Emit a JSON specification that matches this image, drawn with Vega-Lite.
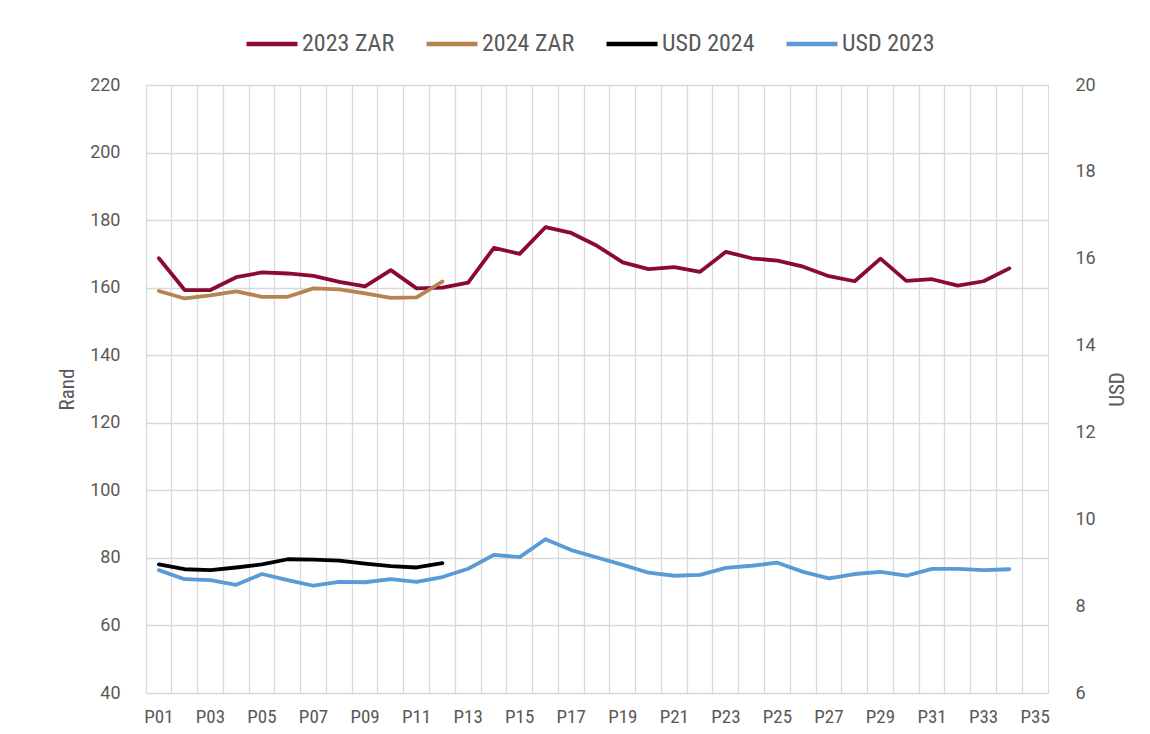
{
  "$schema": "https://vega.github.io/schema/vega-lite/v6.json",
  "width": 902,
  "height": 608,
  "autosize": {"type": "none"},
  "padding": {"left": 146, "top": 85, "right": 102, "bottom": 41},
  "background": "white",
  "config": {
    "view": {"stroke": "#d9d9d9", "strokeWidth": 1},
    "axis": {"labelColor": "#595959", "titleColor": "#595959", "gridColor": "#d9d9d9", "gridWidth": 1.3}
  },
  "datasets": {
    "zar": [
      {"period": "P01", "series": "2023 ZAR", "value": 168.7},
      {"period": "P02", "series": "2023 ZAR", "value": 159.3},
      {"period": "P03", "series": "2023 ZAR", "value": 159.3},
      {"period": "P04", "series": "2023 ZAR", "value": 163.1},
      {"period": "P05", "series": "2023 ZAR", "value": 164.5},
      {"period": "P06", "series": "2023 ZAR", "value": 164.2},
      {"period": "P07", "series": "2023 ZAR", "value": 163.5},
      {"period": "P08", "series": "2023 ZAR", "value": 161.7},
      {"period": "P09", "series": "2023 ZAR", "value": 160.4},
      {"period": "P10", "series": "2023 ZAR", "value": 165.2},
      {"period": "P11", "series": "2023 ZAR", "value": 159.8},
      {"period": "P12", "series": "2023 ZAR", "value": 160.0},
      {"period": "P13", "series": "2023 ZAR", "value": 161.5},
      {"period": "P14", "series": "2023 ZAR", "value": 171.8},
      {"period": "P15", "series": "2023 ZAR", "value": 170.0},
      {"period": "P16", "series": "2023 ZAR", "value": 177.9},
      {"period": "P17", "series": "2023 ZAR", "value": 176.2},
      {"period": "P18", "series": "2023 ZAR", "value": 172.4},
      {"period": "P19", "series": "2023 ZAR", "value": 167.5},
      {"period": "P20", "series": "2023 ZAR", "value": 165.5},
      {"period": "P21", "series": "2023 ZAR", "value": 166.1},
      {"period": "P22", "series": "2023 ZAR", "value": 164.7},
      {"period": "P23", "series": "2023 ZAR", "value": 170.6},
      {"period": "P24", "series": "2023 ZAR", "value": 168.7},
      {"period": "P25", "series": "2023 ZAR", "value": 168.0},
      {"period": "P26", "series": "2023 ZAR", "value": 166.2},
      {"period": "P27", "series": "2023 ZAR", "value": 163.4},
      {"period": "P28", "series": "2023 ZAR", "value": 161.9},
      {"period": "P29", "series": "2023 ZAR", "value": 168.6},
      {"period": "P30", "series": "2023 ZAR", "value": 162.0},
      {"period": "P31", "series": "2023 ZAR", "value": 162.5},
      {"period": "P32", "series": "2023 ZAR", "value": 160.6},
      {"period": "P33", "series": "2023 ZAR", "value": 161.9},
      {"period": "P34", "series": "2023 ZAR", "value": 165.7},
      {"period": "P01", "series": "2024 ZAR", "value": 159.0},
      {"period": "P02", "series": "2024 ZAR", "value": 156.8},
      {"period": "P03", "series": "2024 ZAR", "value": 157.7},
      {"period": "P04", "series": "2024 ZAR", "value": 158.9},
      {"period": "P05", "series": "2024 ZAR", "value": 157.3},
      {"period": "P06", "series": "2024 ZAR", "value": 157.3},
      {"period": "P07", "series": "2024 ZAR", "value": 159.8},
      {"period": "P08", "series": "2024 ZAR", "value": 159.5},
      {"period": "P09", "series": "2024 ZAR", "value": 158.3},
      {"period": "P10", "series": "2024 ZAR", "value": 157.0},
      {"period": "P11", "series": "2024 ZAR", "value": 157.1},
      {"period": "P12", "series": "2024 ZAR", "value": 161.8}
    ],
    "usd": [
      {"period": "P01", "series": "USD 2024", "value": 8.96},
      {"period": "P02", "series": "USD 2024", "value": 8.85},
      {"period": "P03", "series": "USD 2024", "value": 8.83},
      {"period": "P04", "series": "USD 2024", "value": 8.89},
      {"period": "P05", "series": "USD 2024", "value": 8.96},
      {"period": "P06", "series": "USD 2024", "value": 9.08},
      {"period": "P07", "series": "USD 2024", "value": 9.07},
      {"period": "P08", "series": "USD 2024", "value": 9.05},
      {"period": "P09", "series": "USD 2024", "value": 8.98},
      {"period": "P10", "series": "USD 2024", "value": 8.92},
      {"period": "P11", "series": "USD 2024", "value": 8.89},
      {"period": "P12", "series": "USD 2024", "value": 8.99},
      {"period": "P01", "series": "USD 2023", "value": 8.83},
      {"period": "P02", "series": "USD 2023", "value": 8.62},
      {"period": "P03", "series": "USD 2023", "value": 8.60},
      {"period": "P04", "series": "USD 2023", "value": 8.49},
      {"period": "P05", "series": "USD 2023", "value": 8.74},
      {"period": "P06", "series": "USD 2023", "value": 8.60},
      {"period": "P07", "series": "USD 2023", "value": 8.47},
      {"period": "P08", "series": "USD 2023", "value": 8.56},
      {"period": "P09", "series": "USD 2023", "value": 8.55},
      {"period": "P10", "series": "USD 2023", "value": 8.62},
      {"period": "P11", "series": "USD 2023", "value": 8.56},
      {"period": "P12", "series": "USD 2023", "value": 8.67},
      {"period": "P13", "series": "USD 2023", "value": 8.86},
      {"period": "P14", "series": "USD 2023", "value": 9.18},
      {"period": "P15", "series": "USD 2023", "value": 9.13},
      {"period": "P16", "series": "USD 2023", "value": 9.54},
      {"period": "P17", "series": "USD 2023", "value": 9.29},
      {"period": "P18", "series": "USD 2023", "value": 9.12},
      {"period": "P19", "series": "USD 2023", "value": 8.95},
      {"period": "P20", "series": "USD 2023", "value": 8.77},
      {"period": "P21", "series": "USD 2023", "value": 8.70},
      {"period": "P22", "series": "USD 2023", "value": 8.72},
      {"period": "P23", "series": "USD 2023", "value": 8.88},
      {"period": "P24", "series": "USD 2023", "value": 8.93},
      {"period": "P25", "series": "USD 2023", "value": 9.00},
      {"period": "P26", "series": "USD 2023", "value": 8.79},
      {"period": "P27", "series": "USD 2023", "value": 8.64},
      {"period": "P28", "series": "USD 2023", "value": 8.74},
      {"period": "P29", "series": "USD 2023", "value": 8.79},
      {"period": "P30", "series": "USD 2023", "value": 8.70},
      {"period": "P31", "series": "USD 2023", "value": 8.86},
      {"period": "P32", "series": "USD 2023", "value": 8.86},
      {"period": "P33", "series": "USD 2023", "value": 8.83},
      {"period": "P34", "series": "USD 2023", "value": 8.85}
    ]
  },
  "layer": [
    {
      "data": {"name": "zar"},
      "mark": {"type": "line", "strokeWidth": 3.8, "strokeCap": "round", "strokeJoin": "round"},
      "encoding": {
        "x": {
          "field": "period", "type": "ordinal", "bandPosition": 0.5,
          "scale": {"type": "band", "paddingInner": 0, "paddingOuter": 0,
            "domain": ["P01","P02","P03","P04","P05","P06","P07","P08","P09","P10","P11","P12","P13","P14","P15","P16","P17","P18","P19","P20","P21","P22","P23","P24","P25","P26","P27","P28","P29","P30","P31","P32","P33","P34","P35"]},
          "axis": {"title": null, "orient": "bottom", "grid": true, "bandPosition": 0, "labels": false, "ticks": false, "domain": false}
        },
        "y": {
          "field": "value", "type": "quantitative",
          "scale": {"domain": [40, 220], "nice": false, "zero": false},
          "axis": {"title": "Rand", "values": [40,60,80,100,120,140,160,180,200,220], "grid": true, "ticks": false, "domain": false,
            "labelFont": "Roboto", "labelFontSize": 18, "labelPadding": 26,
            "titleFont": "'Roboto Condensed', 'DejaVu Sans Condensed', 'Liberation Sans Narrow', 'Open Sans Condensed', Roboto, sans-serif", "titleFontSize": 21, "titleFontWeight": "normal", "titleAngle": -90, "titlePadding": 12}
        },
        "color": {
          "field": "series", "type": "nominal",
          "scale": {"domain": ["2023 ZAR", "2024 ZAR", "USD 2024", "USD 2023"], "range": ["#8B0A32", "#B5844F", "#000000", "#5B9BD5"]},
          "legend": {
            "title": null, "orient": "none", "direction": "horizontal", "legendX": 98, "legendY": -69,
            "symbolType": "stroke", "symbolSize": 2600, "symbolStrokeWidth": 4.5,
            "labelFont": "'Roboto Condensed', 'DejaVu Sans Condensed', 'Liberation Sans Narrow', 'Open Sans Condensed', Roboto, sans-serif", "labelFontSize": 24, "labelColor": "#595959",
            "labelOffset": 2, "columnPadding": 22
          }
        }
      }
    },
    {
      "data": {"name": "usd"},
      "mark": {"type": "line", "strokeWidth": 3.8, "strokeCap": "round", "strokeJoin": "round"},
      "encoding": {
        "x": {
          "field": "period", "type": "ordinal", "bandPosition": 0.5,
          "axis": {"title": null, "orient": "bottom", "grid": false, "labels": true, "ticks": false, "domain": false,
            "values": ["P01","P03","P05","P07","P09","P11","P13","P15","P17","P19","P21","P23","P25","P27","P29","P31","P33","P35"],
            "labelAngle": 0, "labelFont": "'Roboto Condensed', 'DejaVu Sans Condensed', 'Liberation Sans Narrow', 'Open Sans Condensed', Roboto, sans-serif", "labelFontSize": 19, "labelPadding": 14}
        },
        "y": {
          "field": "value", "type": "quantitative",
          "scale": {"domain": [6, 20], "nice": false, "zero": false},
          "axis": {"title": "USD", "orient": "right", "values": [6,8,10,12,14,16,18,20], "grid": false, "ticks": false, "domain": false,
            "labelFont": "Roboto", "labelFontSize": 18, "labelPadding": 27,
            "titleFont": "'Roboto Condensed', 'DejaVu Sans Condensed', 'Liberation Sans Narrow', 'Open Sans Condensed', Roboto, sans-serif", "titleFontSize": 21, "titleFontWeight": "normal", "titleAngle": -90, "titlePadding": 32}
        },
        "color": {"field": "series", "type": "nominal"}
      }
    }
  ],
  "resolve": {"scale": {"y": "independent"}, "axis": {"x": "independent"}}
}
